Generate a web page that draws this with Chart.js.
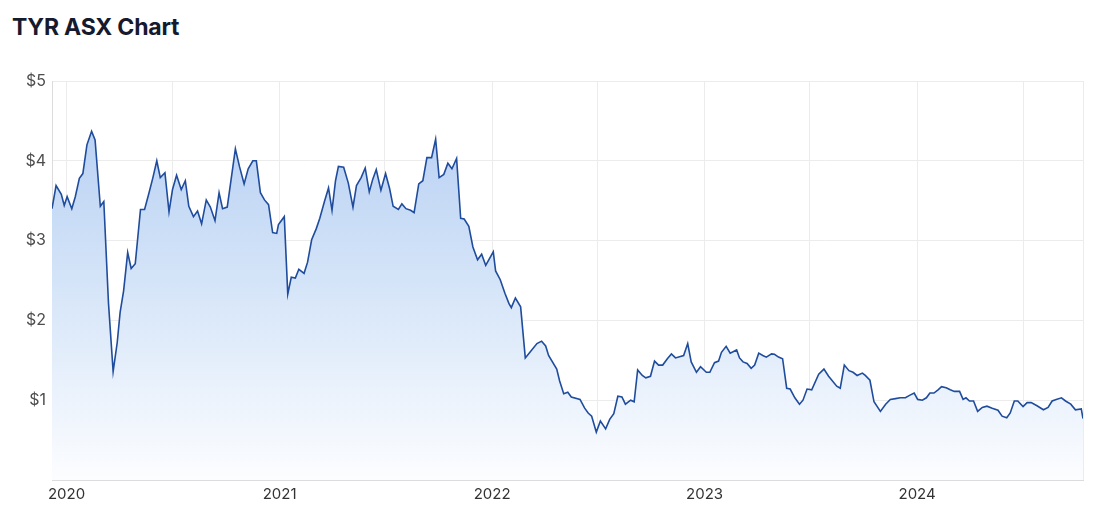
<!DOCTYPE html>
<html>
<head>
<meta charset="utf-8">
<script src="https://cdn.jsdelivr.net/npm/chart.js@4.4.1/dist/chart.umd.min.js"></script>
<style>
    html, body { margin: 0; padding: 0; background: #fff; }
    body { width: 1107px; height: 519px; position: relative; overflow: hidden; font-family: "Inter", "Roboto", sans-serif; }
    #title { position: absolute; left: 12px; top: 13px; font-size: 23px; font-weight: 700; color: #161a2e; letter-spacing: -0.2px; }
    #wrap { position: absolute; left: 0; top: 0; width: 1107px; height: 519px; }
</style>
</head>
<body>
<div id="title">TYR ASX Chart</div>
<div id="wrap"><canvas id="priceChart"></canvas></div>
<script>
// 終値（週足、目視で読み取り）
var dates = [
    "2019-12-07","2019-12-14","2019-12-23","2019-12-28","2020-01-02","2020-01-10","2020-01-16","2020-01-23","2020-01-29","2020-02-05",
    "2020-02-13","2020-02-19","2020-02-28","2020-03-05","2020-03-13","2020-03-21","2020-03-28","2020-04-02","2020-04-08","2020-04-15",
    "2020-04-21","2020-04-28","2020-05-07","2020-05-14","2020-05-21","2020-05-28","2020-06-04","2020-06-10","2020-06-18","2020-06-25",
    "2020-07-01","2020-07-08","2020-07-16","2020-07-23","2020-07-29","2020-08-06","2020-08-13","2020-08-20","2020-08-28","2020-09-04",
    "2020-09-12","2020-09-19","2020-09-25","2020-10-03","2020-10-17","2020-10-24","2020-11-01","2020-11-08","2020-11-16","2020-11-22",
    "2020-11-29","2020-12-06","2020-12-13","2020-12-20","2020-12-27","2020-12-30","2021-01-09","2021-01-15","2021-01-21","2021-01-28",
    "2021-02-03","2021-02-12","2021-02-18","2021-02-25","2021-03-05","2021-03-11","2021-03-19","2021-03-26","2021-04-01","2021-04-07",
    "2021-04-12","2021-04-21","2021-04-29","2021-05-07","2021-05-13","2021-05-21","2021-05-28","2021-06-04","2021-06-10","2021-06-16",
    "2021-06-24","2021-07-02","2021-07-09","2021-07-15","2021-07-24","2021-07-30","2021-08-06","2021-08-14","2021-08-20","2021-08-28",
    "2021-09-04","2021-09-11","2021-09-19","2021-09-26","2021-10-02","2021-10-10","2021-10-17","2021-10-24","2021-11-01","2021-11-08",
    "2021-11-14","2021-11-22","2021-11-29","2021-12-07","2021-12-14","2021-12-21","2022-01-03","2022-01-07","2022-01-15","2022-01-23",
    "2022-01-30","2022-02-03","2022-02-10","2022-02-19","2022-02-27","2022-03-08","2022-03-19","2022-03-27","2022-04-03","2022-04-08",
    "2022-04-22","2022-04-27","2022-05-04","2022-05-11","2022-05-17","2022-06-01","2022-06-09","2022-06-15","2022-06-21","2022-06-29",
    "2022-07-06","2022-07-15","2022-07-22","2022-07-29","2022-08-05","2022-08-12","2022-08-18","2022-08-27","2022-09-02","2022-09-08",
    "2022-09-16","2022-09-22","2022-09-30","2022-10-07","2022-10-14","2022-10-21","2022-10-29","2022-11-05","2022-11-12","2022-11-26",
    "2022-12-03","2022-12-09","2022-12-18","2022-12-25","2023-01-04","2023-01-10","2023-01-18","2023-01-25","2023-01-30","2023-02-07",
    "2023-02-14","2023-02-25","2023-03-02","2023-03-08","2023-03-15","2023-03-22","2023-03-28","2023-04-04","2023-04-11","2023-04-17",
    "2023-04-26","2023-05-01","2023-05-08","2023-05-15","2023-05-22","2023-05-28","2023-06-05","2023-06-13","2023-06-19","2023-06-26",
    "2023-07-04","2023-07-16","2023-07-25","2023-08-02","2023-08-16","2023-08-22","2023-08-29","2023-09-06","2023-09-13","2023-09-20",
    "2023-09-29","2023-10-04","2023-10-12","2023-10-19","2023-10-30","2023-11-08","2023-11-16","2023-11-25","2023-12-03","2023-12-12",
    "2023-12-19","2023-12-27","2024-01-02","2024-01-10","2024-01-17","2024-01-23","2024-01-30","2024-02-06","2024-02-12","2024-02-20",
    "2024-02-27","2024-03-05","2024-03-14","2024-03-20","2024-03-25","2024-03-31","2024-04-07","2024-04-14","2024-04-22","2024-04-30",
    "2024-05-09","2024-05-19","2024-05-26","2024-06-03","2024-06-09","2024-06-16","2024-06-22","2024-07-01","2024-07-08","2024-07-15",
    "2024-07-25","2024-08-05","2024-08-13","2024-08-20","2024-08-27","2024-09-05","2024-09-12","2024-09-21","2024-09-29","2024-10-09",
    "2024-10-12"
];
var prices = [
    3.40, 3.69, 3.58, 3.44, 3.55, 3.40, 3.55, 3.78, 3.84, 4.20,
    4.37, 4.26, 3.43, 3.49, 2.22, 1.36, 1.72, 2.10, 2.37, 2.85,
    2.65, 2.71, 3.39, 3.39, 3.58, 3.78, 4.00, 3.79, 3.85, 3.36,
    3.64, 3.82, 3.64, 3.75, 3.43, 3.30, 3.37, 3.21, 3.51, 3.42,
    3.25, 3.60, 3.40, 3.42, 4.15, 3.93, 3.71, 3.90, 4.00, 4.00,
    3.60, 3.51, 3.45, 3.10, 3.09, 3.20, 3.30, 2.33, 2.54, 2.53,
    2.64, 2.59, 2.73, 3.01, 3.15, 3.28, 3.49, 3.66, 3.38, 3.75,
    3.93, 3.92, 3.72, 3.42, 3.69, 3.79, 3.91, 3.61, 3.77, 3.89,
    3.63, 3.84, 3.65, 3.43, 3.39, 3.46, 3.40, 3.38, 3.35, 3.71,
    3.75, 4.04, 4.04, 4.27, 3.79, 3.83, 3.97, 3.90, 4.03, 3.28,
    3.27, 3.18, 2.92, 2.76, 2.83, 2.69, 2.86, 2.62, 2.51, 2.34,
    2.21, 2.16, 2.28, 2.17, 1.53, 1.61, 1.71, 1.74, 1.68, 1.56,
    1.39, 1.24, 1.08, 1.10, 1.04, 1.01, 0.90, 0.84, 0.80, 0.60,
    0.74, 0.64, 0.76, 0.83, 1.05, 1.04, 0.95, 1.00, 0.98, 1.38,
    1.31, 1.28, 1.30, 1.49, 1.44, 1.44, 1.52, 1.58, 1.53, 1.56,
    1.71, 1.48, 1.35, 1.42, 1.35, 1.35, 1.47, 1.49, 1.60, 1.675,
    1.59, 1.63, 1.53, 1.48, 1.46, 1.40, 1.44, 1.59, 1.56, 1.54,
    1.58, 1.575, 1.54, 1.52, 1.15, 1.14, 1.03, 0.95, 1.00, 1.14,
    1.13, 1.325, 1.39, 1.30, 1.175, 1.15, 1.44, 1.37, 1.35, 1.31,
    1.34, 1.31, 1.25, 0.98, 0.86, 0.95, 1.01, 1.02, 1.03, 1.03,
    1.06, 1.09, 1.01, 1.00, 1.03, 1.09, 1.09, 1.13, 1.17, 1.155,
    1.13, 1.11, 1.11, 1.01, 1.03, 0.99, 0.99, 0.86, 0.91, 0.925,
    0.90, 0.875, 0.80, 0.78, 0.84, 0.99, 0.99, 0.92, 0.97, 0.97,
    0.93, 0.88, 0.91, 0.99, 1.01, 1.03, 0.99, 0.95, 0.88, 0.89,
    0.77
];
// 目盛り（半年ごとの補助線、年だけラベル）
var gridDates = ["2020-01-01","2020-07-01","2021-01-01","2021-07-01","2022-01-01","2022-07-01","2023-01-01","2023-07-01","2024-01-01","2024-07-01"];
var yTicks = [0, 1, 2, 3, 4, 5];

var DAY = 86400000;
var base = Date.parse("2020-01-01");
function toDay(s) {
    return (Date.parse(s) - base) / DAY;
}

var points = [];
for (var i = 0; i < dates.length; i++) {
    points.push({ x: toDay(dates[i]), y: prices[i] });
}
var xMin = toDay(dates[0]);
var xMax = toDay(dates[dates.length - 1]);

var ctx = document.getElementById('priceChart').getContext('2d');
var gridColor = '#ececec';

new Chart(ctx, {
    type: 'line',
    data: {
        datasets: [{
            data: points,
            borderColor: '#1f4c9c',
            borderWidth: 1.6,
            pointRadius: 0,
            tension: 0,
            fill: 'origin',
            backgroundColor: function (c) {
                var area = c.chart.chartArea;
                if (!area) return 'rgba(190,212,243,0.8)';
                var g = c.chart.ctx.createLinearGradient(0, area.top, 0, area.bottom);
                g.addColorStop(0, 'rgb(178,204,242)');
                g.addColorStop(0.5, 'rgb(212,228,248)');
                g.addColorStop(1, 'rgb(252,253,255)');
                return g;
            }
        }]
    },
    options: {
        responsive: true,
        maintainAspectRatio: false,
        animation: false,
        layout: { padding: { top: 81, right: 24, bottom: 11, left: 0 } },
        plugins: {
            legend: { display: false },
            tooltip: { enabled: false }
        },
        scales: {
            x: {
                type: 'linear',
                min: xMin,
                max: xMax,
                afterBuildTicks: function (scale) {
                    var t = gridDates.map(function (d) { return { value: toDay(d) }; });
                    t.push({ value: xMax });
                    scale.ticks = t;
                },
                ticks: {
                    autoSkip: false,
                    maxRotation: 0,
                    color: '#333333',
                    font: { family: 'Inter', size: 15 },
                    padding: 5,
                    callback: function (v) {
                        for (var i = 0; i < gridDates.length; i++) {
                            if (Math.abs(toDay(gridDates[i]) - v) < 0.5 && gridDates[i].slice(5) === '01-01') {
                                return gridDates[i].slice(0, 4);
                            }
                        }
                        return '';
                    }
                },
                grid: { color: gridColor, drawTicks: false },
                border: { color: '#dcdcdc' }
            },
            y: {
                min: 0,
                max: 5,
                afterBuildTicks: function (scale) {
                    scale.ticks = yTicks.map(function (v) { return { value: v }; });
                },
                afterFit: function (scale) {
                    scale.width = 52;
                },
                ticks: {
                    color: '#4d4d4d',
                    font: { family: 'Inter', size: 16 },
                    padding: 6,
                    callback: function (v) { return v === 0 ? '' : '$' + v; }
                },
                grid: { color: gridColor, drawTicks: false },
                border: { color: '#dcdcdc' }
            }
        }
    }
});
</script>
</body>
</html>
